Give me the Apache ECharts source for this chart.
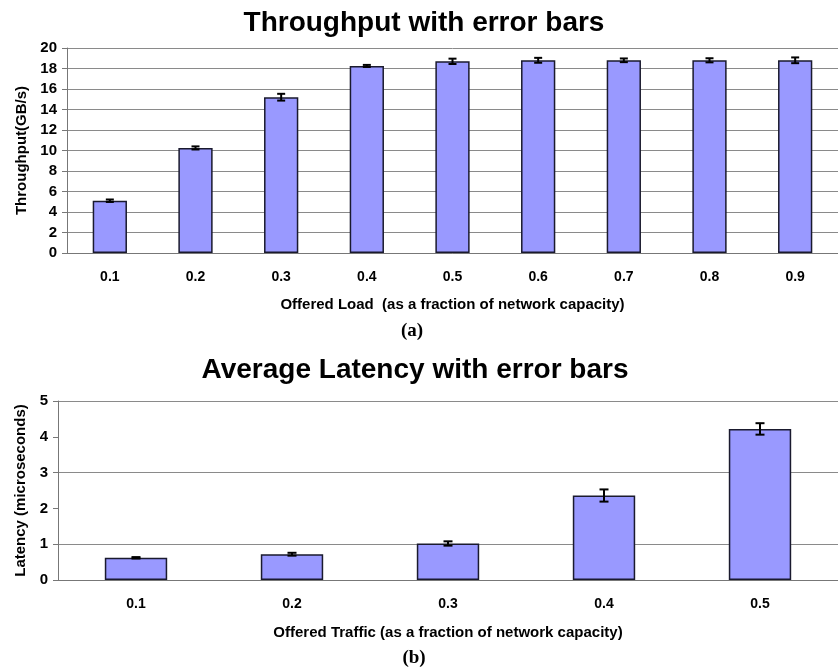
<!DOCTYPE html>
<html>
<head>
<meta charset="utf-8">
<script src="https://cdn.jsdelivr.net/npm/echarts@6/dist/echarts.min.js"></script>
<style>html,body{margin:0;padding:0;background:#fff}#c{width:838px;height:668px}</style>
</head>
<body>
<div id="c"></div>
<script>
// Chart (a): Throughput
const loadCategories = ['0.1','0.2','0.3','0.4','0.5','0.6','0.7','0.8','0.9'];
const throughput = [5.1, 10.25, 15.2, 18.25, 18.7, 18.8, 18.8, 18.8, 18.8];
const throughputErr = [0.12, 0.15, 0.33, 0.1, 0.26, 0.24, 0.18, 0.2, 0.28];
// Chart (b): Latency
const trafficCategories = ['0.1','0.2','0.3','0.4','0.5'];
const latency = [0.62, 0.72, 1.02, 2.36, 4.22];
const latencyErr = [0.02, 0.04, 0.06, 0.17, 0.16];

const FONT = '"Liberation Sans", Arial, sans-serif';
const chart = echarts.init(document.getElementById('c'), null, {renderer: 'canvas'});

function errData(vals, errs) {
  return vals.map((v, i) => [i, v - errs[i], v + errs[i]]);
}
function errRender(capHalf) {
  return function (params, api) {
    const lo = api.coord([api.value(0), api.value(1)]);
    const hi = api.coord([api.value(0), api.value(2)]);
    const st = {stroke: '#000', lineWidth: 2};
    return {
      type: 'group',
      children: [
        {type: 'line', shape: {x1: lo[0], y1: lo[1], x2: hi[0], y2: hi[1]}, style: st},
        {type: 'line', shape: {x1: hi[0] - capHalf, y1: hi[1], x2: hi[0] + capHalf, y2: hi[1]}, style: st},
        {type: 'line', shape: {x1: lo[0] - capHalf, y1: lo[1], x2: lo[0] + capHalf, y2: lo[1]}, style: st}
      ]
    };
  };
}

const axisLabelY = {fontFamily: FONT, fontWeight: 'bold', fontSize: 15, color: '#000'};
const axisLabelX = {fontFamily: FONT, fontWeight: 'bold', fontSize: 14, color: '#000'};
const nameStyle = {fontFamily: FONT, fontWeight: 'bold', fontSize: 15, color: '#000'};
const titleStyle = {fontFamily: FONT, fontWeight: 'bold', fontSize: 28, color: '#000'};
const serifStyle = {fontFamily: '"Liberation Serif", "Times New Roman", serif', fontWeight: 'bold', fontSize: 19, color: '#000'};

chart.setOption({
  animation: false,
  backgroundColor: '#fff',
  title: [
    {text: 'Throughput with error bars', left: 419, textAlign: 'center', top: 4, textStyle: titleStyle},
    {text: '(a)', left: 407, textAlign: 'center', top: 317, textStyle: serifStyle},
    {text: 'Average Latency with error bars', left: 410, textAlign: 'center', top: 351, textStyle: titleStyle},
    {text: '(b)', left: 409, textAlign: 'center', top: 644, textStyle: serifStyle}
  ],
  grid: [
    {left: 67, top: 48, width: 777, height: 205},
    {left: 58, top: 401, width: 787, height: 179}
  ],
  xAxis: [
    {type: 'category', gridIndex: 0, data: loadCategories,
     axisLine: {lineStyle: {color: '#777', width: 1}},
     axisTick: {length: 5, lineStyle: {color: '#777'}},
     axisLabel: Object.assign({margin: 17}, axisLabelX),
     name: 'Offered Load  (as a fraction of network capacity)', nameLocation: 'middle', nameGap: 44,
     nameTextStyle: nameStyle},
    {type: 'category', gridIndex: 1, data: trafficCategories,
     axisLine: {lineStyle: {color: '#777', width: 1}},
     axisTick: {length: 5, lineStyle: {color: '#777'}},
     axisLabel: Object.assign({margin: 17}, axisLabelX),
     name: 'Offered Traffic (as a fraction of network capacity)', nameLocation: 'middle', nameGap: 45,
     nameTextStyle: nameStyle}
  ],
  yAxis: [
    {type: 'value', gridIndex: 0, min: 0, max: 20, interval: 2,
     axisLine: {show: true, lineStyle: {color: '#777'}},
     axisTick: {show: true, length: 5, lineStyle: {color: '#777'}},
     splitLine: {lineStyle: {color: '#8a8a8a', width: 1}},
     axisLabel: Object.assign({margin: 10}, axisLabelY),
     name: 'Throughput(GB/s)', nameLocation: 'middle', nameGap: 38, nameTextStyle: nameStyle},
    {type: 'value', gridIndex: 1, min: 0, max: 5, interval: 1,
     axisLine: {show: true, lineStyle: {color: '#777'}},
     axisTick: {show: true, length: 5, lineStyle: {color: '#777'}},
     splitLine: {lineStyle: {color: ['rgba(0,0,0,0)', '#8a8a8a'], width: 1}},
     axisLabel: Object.assign({margin: 10}, axisLabelY),
     name: 'Latency (microseconds)', nameLocation: 'middle', nameGap: 29, nameTextStyle: nameStyle}
  ],
  series: [
    {type: 'bar', xAxisIndex: 0, yAxisIndex: 0, data: throughput, barWidth: '40%',
     itemStyle: {color: '#9999FF', borderColor: '#1a1a2e', borderWidth: 1.5}},
    {type: 'custom', xAxisIndex: 0, yAxisIndex: 0, data: errData(throughput, throughputErr),
     renderItem: errRender(4), z: 5},
    {type: 'bar', xAxisIndex: 1, yAxisIndex: 1, data: latency, barWidth: '40%',
     itemStyle: {color: '#9999FF', borderColor: '#1a1a2e', borderWidth: 1.5}},
    {type: 'custom', xAxisIndex: 1, yAxisIndex: 1, data: errData(latency, latencyErr),
     renderItem: errRender(4.5), z: 5}
  ]
});
</script>
</body>
</html>
